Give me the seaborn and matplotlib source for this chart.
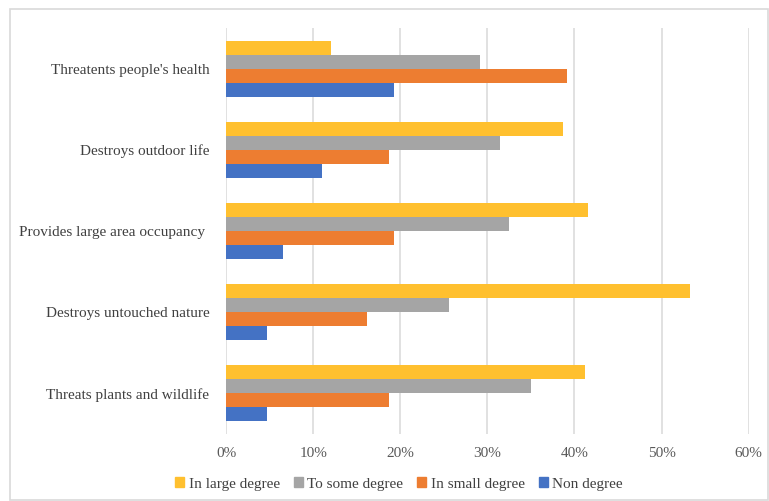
import matplotlib
matplotlib.use("Agg")
import matplotlib.pyplot as plt
from matplotlib.patches import Rectangle
from matplotlib.ticker import PercentFormatter
import pandas as pd
import seaborn as sns

categories = [
    "Threatents people's health",
    "Destroys outdoor life",
    "Provides large area occupancy ",
    "Destroys untouched nature",
    "Threats plants and wildlife",
]
series = ["In large degree", "To some degree", "In small degree", "Non degree"]
in_large = [0.121, 0.387, 0.415, 0.533, 0.412]
to_some = [0.291, 0.315, 0.325, 0.256, 0.350]
in_small = [0.392, 0.187, 0.193, 0.162, 0.187]
non_degree = [0.193, 0.110, 0.065, 0.047, 0.047]
colors = ["#FFC02F", "#A5A5A5", "#ED7D31", "#4472C4"]

rows = []
for name, vals in zip(series, [in_large, to_some, in_small, non_degree]):
    for cat, v in zip(categories, vals):
        rows.append({"category": cat, "series": name, "value": v})
df = pd.DataFrame(rows)

sns.set_theme(style="white")
plt.rcParams["font.family"] = ["Liberation Serif", "DejaVu Serif"]

fig = plt.figure(figsize=(7.69, 5.01), dpi=100)
ax = fig.add_axes([0.2939, 0.1337, 0.9736 - 0.2939, 0.9441 - 0.1337])

sns.barplot(
    data=df, y="category", x="value", hue="series",
    order=categories, hue_order=series, palette=colors,
    orient="h", width=0.69, linewidth=0, saturation=1, ax=ax,
)

ax.set_xlim(0, 0.6)
ax.set_xticks([0, 0.1, 0.2, 0.3, 0.4, 0.5, 0.6])
ax.xaxis.set_major_formatter(PercentFormatter(1.0, decimals=0))
ax.grid(axis="x", color="#D9D9D9", linewidth=1.1)
ax.set_axisbelow(True)
for s in ax.spines.values():
    s.set_visible(False)
ax.set_xlabel("")
ax.set_ylabel("")
ax.tick_params(axis="x", length=0, pad=9, labelsize=11, labelcolor="#595959")
ax.tick_params(axis="y", length=0, pad=12, labelsize=11, labelcolor="#404040")

ax.legend_.remove()
handles = [Rectangle((0, 0), 1, 1, color=c) for c in colors]
fig.legend(
    handles, series, loc="center", bbox_to_anchor=(0.519, 0.034),
    ncol=4, frameon=False, fontsize=11, handlelength=0.6, handleheight=0.6,
    handletextpad=0.3, columnspacing=0.9, labelcolor="#404040",
)

# light border around the whole chart
fig.add_artist(Rectangle((9.5 / 769, 0.002), (768 - 9.5) / 769, 1 - 9.5 / 501 - 0.002,
                         transform=fig.transFigure, fill=False,
                         edgecolor="#D9D9D9", linewidth=1.2))

fig.savefig("out.png", dpi=100)
